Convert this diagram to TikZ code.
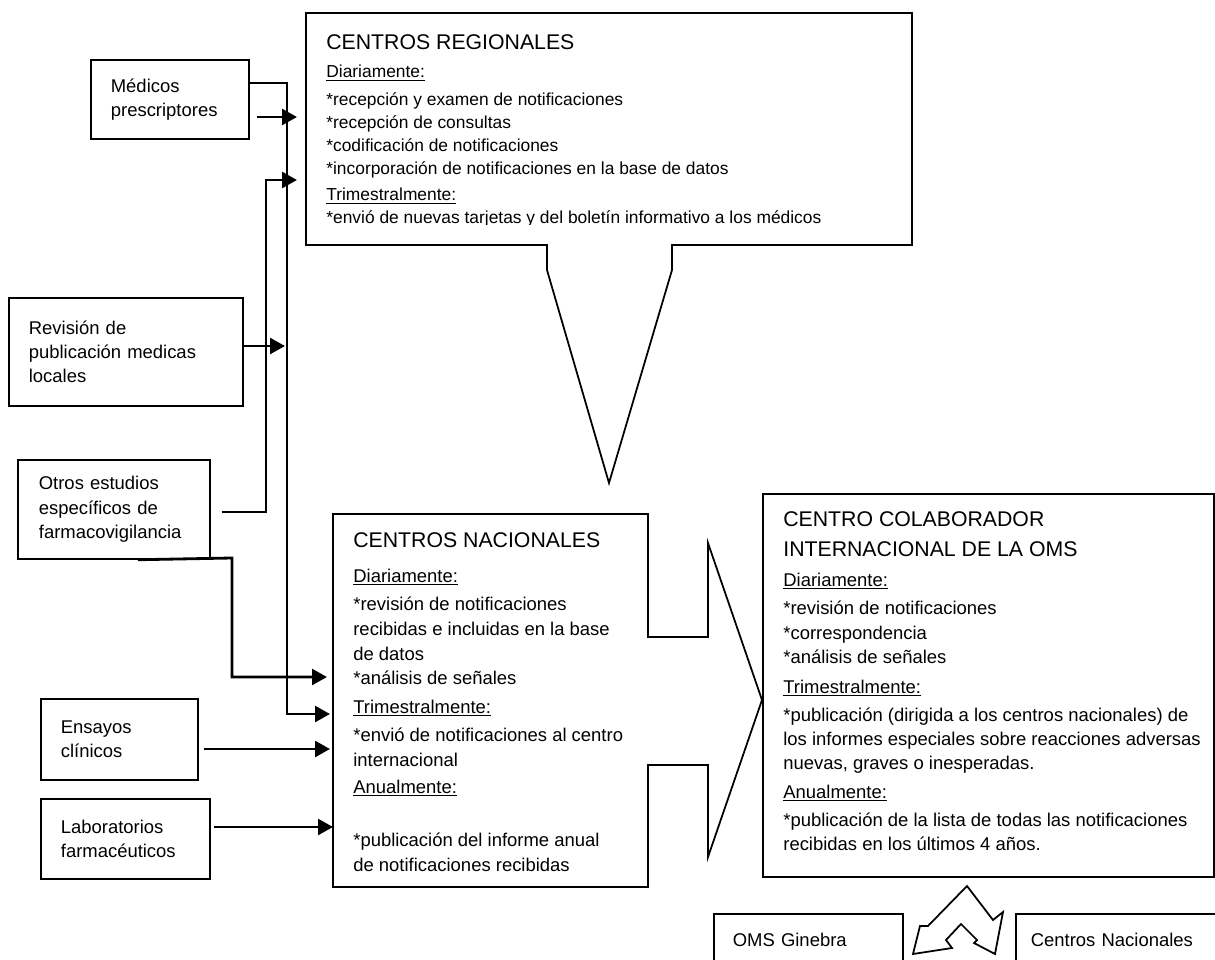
\documentclass[tikz,border=0pt]{standalone}
\usepackage{fontspec}
\setmainfont{Liberation Sans}
\usetikzlibrary{arrows.meta, calc, positioning}

\tikzset{
  box/.style={draw=black, line width=1pt, anchor=north west, align=left, inner ysep=0pt,
    font=\fontsize{10.5}{13.9}\selectfont},
  ln/.style={anchor=base west, inner sep=0pt, font=\fontsize{10.5}{13.9}\selectfont},
  lnsmall/.style={ln, font=\fontsize{9.9}{12.9}\selectfont},
  ttl/.style={anchor=base west, inner sep=0pt, font=\fontsize{12.1}{14}\selectfont},
  arr/.style={line width=1.6pt, -{Triangle[length=8.5pt,width=9pt]}},
  call/.style={draw=black, line width=1pt, line join=miter},
}

\begin{document}
\begin{tikzpicture}[x=0.02cm,y=-0.02cm]
\useasboundingbox (0,0) rectangle (1215,960);

% fuentes de notificaciones
\node[box, minimum width=3.16cm, minimum height=1.58cm, text width=2.36cm, inner xsep=0.4cm] (med) at (90,59) {Médicos\\prescriptores};
\node[box, minimum width=4.68cm, minimum height=2.16cm, text width=3.88cm, inner xsep=0.4cm] (rev) at (8,297) {Revisión de\\publicación medicas\\locales};
\node[box, minimum width=3.84cm, minimum height=1.98cm, text width=3.0cm, inner xsep=0.42cm] (otros) at (17,459) {Otros estudios\\específicos de\\farmacovigilancia};
\node[box, minimum width=3.14cm, minimum height=1.62cm, text width=2.34cm, inner xsep=0.4cm] (ens) at (40,698) {Ensayos\\clínicos};
\node[box, minimum width=3.38cm, minimum height=1.6cm, text width=2.58cm, inner xsep=0.4cm] (lab) at (40,798) {Laboratorios\\farmacéuticos};

% centros regionales
\draw[call] (306,245) -- (547,245) -- (547,270) -- (609,483) -- (672,270) -- (672,245)
  -- (912,245) -- (912,13) -- (306,13) -- cycle;
\node[ttl] (crt) at (326,50) {CENTROS REGIONALES};
\node[lnsmall] (cr1) at (326,77.5) {\underline{Diariamente:}};
\node[lnsmall] (cr2) at (326,105.5) {*recepción y examen de notificaciones};
\node[lnsmall] (cr3) at (326,128.5) {*recepción de consultas};
\node[lnsmall] (cr4) at (326,151) {*codificación de notificaciones};
\node[lnsmall] (cr5) at (326,174) {*incorporación de notificaciones en la base de datos};
\node[lnsmall] (cr6) at (326,200.5) {\underline{Trimestralmente:}};
\begin{scope}
\clip (306,13) rectangle (912,224.5);
\node[lnsmall] (cr7) at (326,223.5) {*envió de nuevas tarjetas y del boletín informativo a los médicos};
\end{scope}

% centros nacionales
\draw[call] (333,514) -- (648,514) -- (648,637) -- (708,637) -- (708,543) -- (762,700)
  -- (708,857) -- (708,765) -- (648,765) -- (648,887) -- (333,887) -- cycle;
\node[ttl] (nct) at (353,547) {CENTROS NACIONALES};
\node[ln] (nc1) at (353,582) {\underline{Diariamente:}};
\node[ln] (nc2) at (353,610) {*revisión de notificaciones};
\node[ln] (nc3) at (353,635) {recibidas e incluidas en la base};
\node[ln] (nc4) at (353,660) {de datos};
\node[ln] (nc5) at (353,684) {*análisis de señales};
\node[ln] (nc6) at (353,713) {\underline{Trimestralmente:}};
\node[ln] (nc7) at (353,741) {*envió de notificaciones al centro};
\node[ln] (nc8) at (353,766) {internacional};
\node[ln] (nc9) at (353,793) {\underline{Anualmente:}};
\node[ln] (nc10) at (353,846) {*publicación del informe anual};
\node[ln] (nc11) at (353,871) {de notificaciones recibidas};

% centro colaborador OMS
\node[draw=black, line width=1pt, anchor=north west, minimum width=9.02cm, minimum height=7.66cm, inner sep=0pt] (cci) at (762,493) {};
\node[ttl] (ccit1) at (783,526) {CENTRO COLABORADOR};
\node[ttl] (ccit2) at (783,556) {INTERNACIONAL DE LA OMS};
\node[ln] (cc1) at (783,586) {\underline{Diariamente:}};
\node[ln] (cc2) at (783,614) {*revisión de notificaciones};
\node[ln] (cc3) at (783,639) {*correspondencia};
\node[ln] (cc4) at (783,663) {*análisis de señales};
\node[ln] (cc5) at (783,693) {\underline{Trimestralmente:}};
\node[ln] (cc6) at (783,721) {*publicación (dirigida a los centros nacionales) de};
\node[ln] (cc7) at (783,745) {los informes especiales sobre reacciones adversas};
\node[ln] (cc8) at (783,769) {nuevas, graves o inesperadas.};
\node[ln] (cc9) at (783,798) {\underline{Anualmente:}};
\node[ln] (cc10) at (783,826) {*publicación de la lista de todas las notificaciones};
\node[ln] (cc11) at (783,850) {recibidas en los últimos 4 años.};

% destinos
\node[box, minimum width=3.78cm, minimum height=1.04cm, text width=3.02cm, inner xsep=0.38cm] (oms) at (713,913) {OMS Ginebra};
\node[box, minimum width=4.1cm, minimum height=1.04cm, text width=3.5cm, inner xsep=0.3cm] (cn) at (1015,913) {Centros Nacionales};
\draw[call] (913,954) -- (920,926) -- (928,926) -- (967,886) -- (993,920) -- (1003,912)
  -- (995,954) -- (974,943) -- (977,940) -- (961,924) -- (946,940) -- (952,948) -- cycle;

% puntos de llegada
\coordinate (crA) at (297,117);
\coordinate (crB) at (297,180);
\coordinate (jA) at (287,83);
\coordinate (jB) at (266,512);
\coordinate (jC) at (232,558);
\coordinate (jR) at (285,346);
\coordinate (ncT1) at (327,677);
\coordinate (ncT2) at (330,714);
\coordinate (ncT3) at (330,749);
\coordinate (ncT4) at (333,827);

\draw[arr] (med.east |- jA) -- (jA) |- (ncT2);
\draw[arr] ($(med.east |- crA)+(7,0)$) -- (crA);
\draw[arr] (rev.east |- jR) -- (jR);
\draw[arr] ($(otros.east |- jB)+(11,0)$) -- (jB) |- (crB);
\draw[arr] ($(otros.south)+(24,0)$) -- (jC) |- (ncT1);
\draw[arr] ($(ens.east |- ncT3)+(5,0)$) -- (ncT3);
\draw[arr] ($(lab.east |- ncT4)+(3,0)$) -- (ncT4);
\end{tikzpicture}
\end{document}
